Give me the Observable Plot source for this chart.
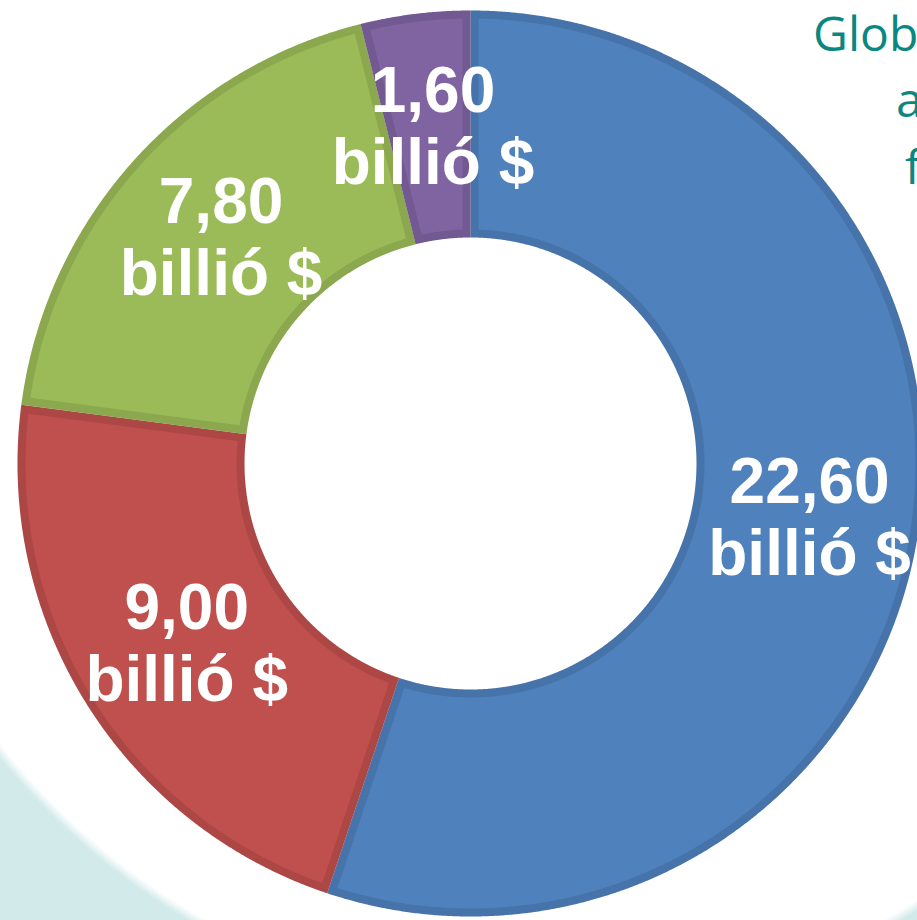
<!DOCTYPE html>
<html>
<head>
<meta charset="utf-8">
<script src="https://cdn.jsdelivr.net/npm/d3@7"></script>
<script src="https://cdn.jsdelivr.net/npm/@observablehq/plot@0.6"></script>
<style>
  html, body { margin: 0; padding: 0; background: #fff; overflow: hidden; }
  #wrap {
    position: relative; width: 917px; height: 920px; overflow: hidden;
    background: radial-gradient(circle 700px at 545px 315px, #ffffff 0, #ffffff 693px, #d2eaea 703px);
  }
  .t { position: absolute; font-family: "Open Sans", sans-serif; font-size: 48px; line-height: 1;
       color: #0a8780; white-space: nowrap; }
</style>
</head>
<body>
<div id="wrap">
  <div class="t" style="left:813px;top:9px;">Glob</div>
  <div class="t" style="left:896px;top:75px;">a</div>
  <div class="t" style="left:905px;top:142px;">f</div>
</div>
<script>
// ---- data ----
const categories = ["22,60 billió $", "9,00 billió $", "7,80 billió $", "1,60 billió $"];
const values = [22.60, 9.00, 7.80, 1.60];
const valueLabels = ["22,60", "9,00", "7,80", "1,60"];
const unitLabel = "billió $";
const fills = ["#4f81bd", "#c0504d", "#9bbb59", "#8064a2"];

// ---- geometry (in px-like data units, centre at 0,0) ----
const R = 453, r = 226, band = 8;
const arcs = d3.pie().sort(null).value(d => d)(values);

function slicePoints(a0, a1, ro, ri, inset, key) {
  const pts = [];
  const so = inset ? Math.asin(inset / ro) : 0;
  const si = inset ? Math.asin(inset / ri) : 0;
  const o0 = a0 + so, o1 = a1 - so, i0 = a0 + si, i1 = a1 - si;
  const no = Math.max(2, Math.ceil((o1 - o0) / 0.004));
  for (let k = 0; k <= no; k++) {
    const a = o0 + (o1 - o0) * k / no;
    pts.push({key, x: ro * Math.sin(a), y: -ro * Math.cos(a)});
  }
  const ni = Math.max(2, Math.ceil((i1 - i0) / 0.004));
  for (let k = ni; k >= 0; k--) {
    const a = i0 + (i1 - i0) * k / ni;
    pts.push({key, x: ri * Math.sin(a), y: -ri * Math.cos(a)});
  }
  return pts;
}

const full = [], inner = [];
arcs.forEach((d, i) => {
  full.push(...slicePoints(d.startAngle, d.endAngle, R, r, 0, categories[i]));
  inner.push(...slicePoints(d.startAngle, d.endAngle, R - band, r + band, band, categories[i]));
});

const rm = (R + r) / 2;
const labels = arcs.map((d, i) => {
  const a = (d.startAngle + d.endAngle) / 2;
  return {key: categories[i], x: rm * Math.sin(a), y: -rm * Math.cos(a),
          text: valueLabels[i] + "\n" + unitLabel};
});

const chart = Plot.plot({
  width: 917,
  height: 920,
  margin: 0,
  style: {background: "transparent"},
  x: {domain: [-470, 447], range: [0, 917], axis: null},
  y: {domain: [-463, 457], range: [0, 920], axis: null},
  color: {domain: categories, range: fills},
  marks: [
    Plot.line(full, {x: "x", y: "y", z: "key", fill: "key", stroke: "none"}),
    Plot.line(full, {x: "x", y: "y", z: "key", fill: "black", fillOpacity: 0.1, stroke: "none"}),
    Plot.line(inner, {x: "x", y: "y", z: "key", fill: "key", stroke: "none"}),
    Plot.text(labels, {
      x: "x", y: "y", text: "text", fill: "white",
      fontSize: 64, fontWeight: "bold", fontFamily: "'Liberation Sans', Arial, sans-serif",
      lineHeight: 1.125, dy: -2, dx: 4
    })
  ]
});
const wrap = document.getElementById("wrap");
chart.style.position = "absolute";
chart.style.left = "0";
chart.style.top = "0";
wrap.insertBefore(chart, wrap.firstChild);
</script>
</body>
</html>
